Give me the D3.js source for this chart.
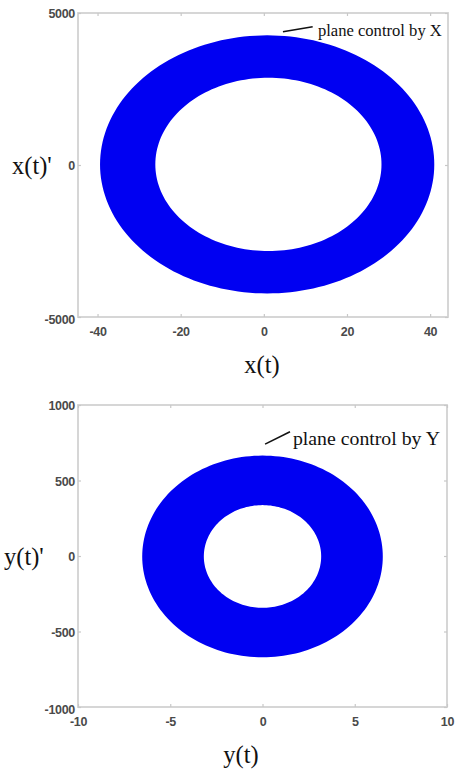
<!DOCTYPE html>
<html>
<head>
<meta charset="utf-8">
<title>Phase planes</title>
<script src="https://d3js.org/d3.v7.min.js"></script>
<style>
  body { margin: 0; background: #fff; }
  .tick text { font-family: "Liberation Sans", Arial, sans-serif; font-weight: bold; font-size: 12.5px; fill: #4a4a4a; letter-spacing: -0.3px; }
  .tick line { stroke: #c8c8c8; stroke-width: 1.2; }
  .lbl { font-family: "Liberation Serif", "Times New Roman", serif; fill: #111; }
</style>
</head>
<body>
<div id="chart"></div>
<script>
// x-plane data (ring = band between two ellipses: cx, cy, rx, ry)
var xTicks = [-40, -20, 0, 20, 40];
var xYTicks = [-5000, 0, 5000];
var xOuter = [0.8, 20, 40.2, 4245];
var xInner = [1.1, 20, 27.2, 2850];
var xNote = { text: "plane control by X", line: [[4.6, 4386], [11.75, 4550]], at: [13.0, 4250] };

// y-plane data
var yTicks = [-10, -5, 0, 5, 10];
var yYTicks = [-1000, -500, 0, 500, 1000];
var yOuter = [0, -3, 6.52, 668];
var yInner = [0, -3, 3.18, 340];
var yNote = { text: "plane control by Y", line: [[0.14, 741], [1.49, 823]], at: [1.65, 735] };

var W = 456, H = 771;
var svg = d3.select("#chart").append("svg")
    .attr("width", W).attr("height", H)
    .style("display", "block");

svg.append("defs").append("filter").attr("id", "soft")
  .append("feGaussianBlur").attr("stdDeviation", 0.6);

var fmt = function (d) { return String(d); };

function ringPath(x, y, outer, inner) {
  var ang = d3.range(0, 360, 2).map(function (a) { return a * Math.PI / 180; });
  var line = d3.line().curve(d3.curveLinearClosed);
  function ell(e) {
    return line(ang.map(function (t) {
      return [x(e[0] + e[2] * Math.cos(t)), y(e[1] + e[3] * Math.sin(t))];
    }));
  }
  return ell(outer) + ell(inner);
}

function panel(opt) {
  var x = d3.scaleLinear().domain(opt.xDomain).range([opt.left, opt.right]);
  var y = d3.scaleLinear().domain(opt.yDomain).range([opt.bottom, opt.top]);
  var g = svg.append("g");

  // ring
  g.append("path")
    .attr("d", ringPath(x, y, opt.outer, opt.inner))
    .attr("fill", "#0606f2")
    .attr("fill-rule", "evenodd")
    .attr("filter", "url(#soft)");

  // frame
  g.append("rect")
    .attr("x", opt.left).attr("y", opt.top)
    .attr("width", opt.right - opt.left).attr("height", opt.bottom - opt.top)
    .attr("fill", "none").attr("stroke", "#d2d2d2").attr("stroke-width", 1.8);

  // axes with inward ticks
  var bx = g.append("g").attr("transform", "translate(0," + opt.bottom + ")")
    .call(d3.axisBottom(x).tickValues(opt.xTicks).tickFormat(fmt).tickSizeInner(-3).tickSizeOuter(0).tickPadding(10));
  var tx = g.append("g").attr("transform", "translate(0," + opt.top + ")")
    .call(d3.axisTop(x).tickValues(opt.xTicks).tickSizeInner(-3).tickSizeOuter(0).tickFormat(""));
  var ly = g.append("g").attr("transform", "translate(" + opt.left + ",0)")
    .call(d3.axisLeft(y).tickValues(opt.yTicks).tickFormat(fmt).tickSizeInner(-3).tickSizeOuter(0).tickPadding(3));
  var ry = g.append("g").attr("transform", "translate(" + opt.right + ",0)")
    .call(d3.axisRight(y).tickValues(opt.yTicks).tickSizeInner(-3).tickSizeOuter(0).tickFormat(""));
  [bx, tx, ly, ry].forEach(function (a) {
    a.select(".domain").remove();
    a.attr("font-family", null).attr("font-size", null);
  });
  ly.selectAll(".tick text").attr("dy", function (d) { return d === opt.yDomain[0] ? "0.55em" : "0.36em"; });

  // annotation
  g.append("line")
    .attr("x1", x(opt.note.line[0][0])).attr("y1", y(opt.note.line[0][1]))
    .attr("x2", x(opt.note.line[1][0])).attr("y2", y(opt.note.line[1][1]))
    .attr("stroke", "#111").attr("stroke-width", 1.6);
  g.append("text").attr("class", "lbl")
    .attr("x", x(opt.note.at[0])).attr("y", y(opt.note.at[1]))
    .style("font-size", opt.noteSize + "px")
    .text(opt.note.text);

  // axis titles
  g.append("text").attr("class", "lbl")
    .attr("x", opt.yTitle[1]).attr("y", opt.yTitle[2])
    .style("font-size", "24.5px").text(opt.yTitle[0]);
  g.append("text").attr("class", "lbl")
    .attr("x", opt.xTitle[1]).attr("y", opt.xTitle[2])
    .attr("text-anchor", "middle")
    .style("font-size", "24.5px").text(opt.xTitle[0]);
}

panel({
  xDomain: [-44.7, 44.3], yDomain: [-5000, 5000],
  left: 78, right: 448, top: 13, bottom: 317,
  xTicks: xTicks, yTicks: xYTicks,
  outer: xOuter, inner: xInner, note: xNote, noteSize: 16.6,
  yTitle: ["x(t)'", 12, 174], xTitle: ["x(t)", 262, 373]
});

panel({
  xDomain: [-10, 10], yDomain: [-1000, 1000],
  left: 78, right: 447, top: 405, bottom: 707,
  xTicks: yTicks, yTicks: yYTicks,
  outer: yOuter, inner: yInner, note: yNote, noteSize: 19.8,
  yTitle: ["y(t)'", 4, 565], xTitle: ["y(t)", 241, 763]
});
</script>
</body>
</html>
